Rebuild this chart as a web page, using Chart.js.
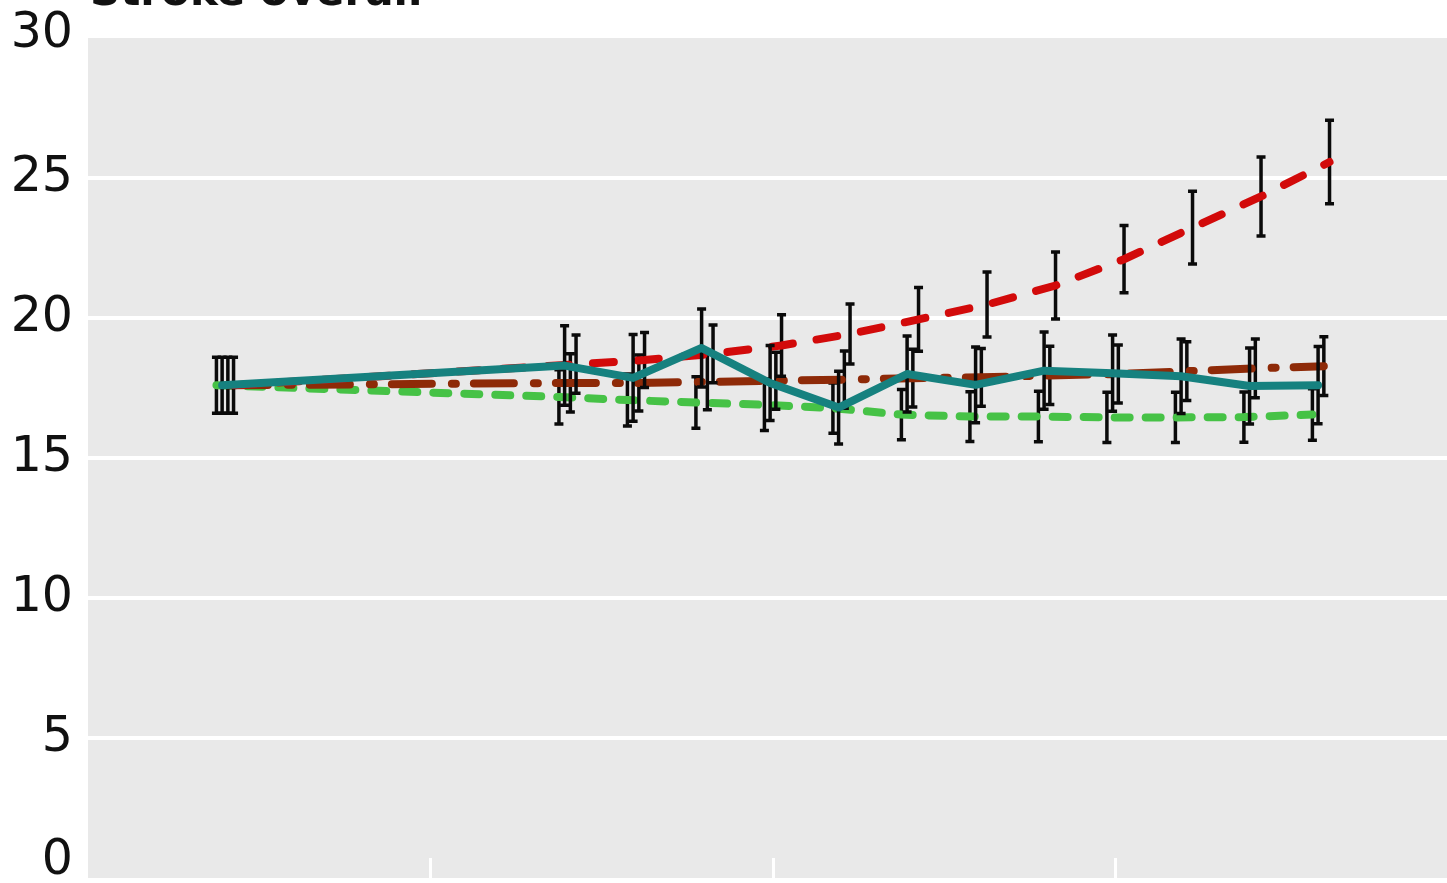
<!DOCTYPE html>
<html>
<head>
<meta charset="utf-8">
<script src="https://cdn.jsdelivr.net/npm/chart.js@4.4.1/dist/chart.umd.min.js"></script>
<style>
  html, body { margin: 0; padding: 0; background: #fff; overflow: hidden; }
  canvas { display: block; }
</style>
</head>
<body>
<canvas id="graph" width="1447" height="883"></canvas>
<script>
// ---- data ----
const title = "Stroke overall";
const xSteps = [2, 7, 8, 9, 10, 11, 12, 13, 14, 15, 16, 17, 18];
const xTicks = [5, 10, 15];

const tealVals  = [17.6, 18.3, 17.86, 18.93, 17.68, 16.8, 18.0, 17.61, 18.12, 18.03, 17.92, 17.57, 17.6];
const tealErr   = [1.0, 1.42, 1.55, 1.39, 1.34, 1.3, 1.36, 1.35, 1.38, 1.36, 1.33, 1.36, 1.38];
const redVals   = [17.6, 18.35, 18.5, 18.72, 19.02, 19.43, 19.95, 20.48, 21.16, 22.1, 23.23, 24.34, 25.57];
const redErr    = [1.0, 1.04, 0.98, 1.03, 1.1, 1.07, 1.14, 1.16, 1.2, 1.2, 1.3, 1.41, 1.49];
const brownVals = [17.6, 17.68, 17.68, 17.72, 17.76, 17.8, 17.85, 17.88, 17.95, 18.0, 18.1, 18.2, 18.28];
const brownErr  = [1.0, 1.04, 1.0, 1.0, 1.02, 1.02, 1.03, 1.03, 1.04, 1.04, 1.05, 1.05, 1.05];
const greenVals = [17.6, 17.18, 17.07, 16.98, 16.9, 16.78, 16.55, 16.48, 16.48, 16.45, 16.45, 16.46, 16.55];
const greenErr  = [1.0, 0.97, 0.93, 0.92, 0.92, 0.9, 0.9, 0.89, 0.9, 0.9, 0.9, 0.9, 0.92];

const FONT = '"DejaVu Sans", sans-serif';

// series are nudged sideways so the error bars don't sit on top of each other
function points(vals, errs, nudge) {
  return xSteps.map((x, i) => ({
    x: x + nudge,
    y: vals[i],
    lo: vals[i] - errs[i],
    hi: vals[i] + errs[i]
  }));
}

// grey panel, white ticks on the x axis, title
const panel = {
  id: "panel",
  beforeDraw(chart) {
    const { ctx, chartArea: a } = chart;
    ctx.save();
    ctx.fillStyle = "#e9e9e9";
    ctx.fillRect(a.left, a.top, a.right - a.left, a.bottom - a.top);
    ctx.restore();
  },
  beforeDatasetsDraw(chart) {
    const { ctx, chartArea: a } = chart;
    const xs = chart.scales.x;
    ctx.save();
    ctx.strokeStyle = "#fff";
    ctx.lineWidth = 3;
    xTicks.forEach(t => {
      const px = Math.round(xs.getPixelForValue(t)) + 0.5;
      ctx.beginPath();
      ctx.moveTo(px, a.bottom);
      ctx.lineTo(px, a.bottom - 20);
      ctx.stroke();
    });
    ctx.restore();
  },
  afterDraw(chart) {
    const { ctx, chartArea: a } = chart;
    ctx.save();
    ctx.font = "bold 42px " + FONT;
    ctx.fillStyle = "#111";
    ctx.textBaseline = "alphabetic";
    ctx.fillText(title, a.left + 2, 5);
    ctx.restore();
  }
};

// error bars go under each series' own line
const errorBars = {
  id: "errorBars",
  beforeDatasetDraw(chart, args) {
    const ds = chart.data.datasets[args.index];
    const xs = chart.scales.x, ys = chart.scales.y;
    const ctx = chart.ctx;
    ctx.save();
    ctx.strokeStyle = "#0a0a0a";
    ctx.lineWidth = 3.5;
    ds.data.forEach(p => {
      const px = xs.getPixelForValue(p.x);
      const top = ys.getPixelForValue(p.hi);
      const bot = ys.getPixelForValue(p.lo);
      ctx.beginPath();
      ctx.moveTo(px, top); ctx.lineTo(px, bot);
      ctx.moveTo(px - 4.5, top); ctx.lineTo(px + 4.5, top);
      ctx.moveTo(px - 4.5, bot); ctx.lineTo(px + 4.5, bot);
      ctx.stroke();
    });
    ctx.restore();
  }
};

const ctx = document.getElementById("graph").getContext("2d");

// first dataset ends up drawn last (on top)
new Chart(ctx, {
  type: "line",
  data: {
    datasets: [
      {
        data: points(tealVals, tealErr, -0.042),
        borderColor: "#16817f",
        borderWidth: 8,
        borderJoinStyle: "round",
        borderCapStyle: "round"
      },
      {
        data: points(redVals, redErr, 0.125),
        borderColor: "#d20a0a",
        borderWidth: 8,
        borderDash: [21, 24],
        borderCapStyle: "round"
      },
      {
        data: points(brownVals, brownErr, 0.042),
        borderColor: "#8e2a08",
        borderWidth: 8,
        borderDash: [40, 20, 4, 18],
        borderCapStyle: "round"
      },
      {
        data: points(greenVals, greenErr, -0.125),
        borderColor: "#46c246",
        borderWidth: 8,
        borderDash: [15, 16],
        borderCapStyle: "round"
      }
    ]
  },
  options: {
    responsive: false,
    animation: false,
    layout: { padding: { top: 38, bottom: 5, left: 0, right: 0 } },
    elements: { point: { radius: 0, hoverRadius: 0 }, line: { tension: 0 } },
    plugins: { legend: { display: false }, tooltip: { enabled: false } },
    scales: {
      x: { type: "linear", min: 0, max: 19.84, display: false },
      y: {
        min: 0,
        max: 30,
        border: { display: false },
        grid: {
          color: c => (c.tick.value === 0 || c.tick.value === 30) ? "rgba(0,0,0,0)" : "#fff",
          lineWidth: 4,
          drawTicks: false
        },
        ticks: {
          stepSize: 5,
          padding: 15,
          color: "#111",
          // two-line labels nudge the end labels inside the panel
          callback: v => (v === 0 || v === 30) ? [String(v), ""] : String(v),
          font: c => ({
            family: FONT,
            size: 49,
            lineHeight: c.tick && c.tick.value === 0 ? 0.68 : (c.tick && c.tick.value === 30 ? 0.15 : 1.2)
          })
        },
        afterFit(scale) {
          scale.width = 88;
          scale.paddingTop = 0;
          scale.paddingBottom = 0;
        }
      }
    }
  },
  plugins: [panel, errorBars]
});
</script>
</body>
</html>
